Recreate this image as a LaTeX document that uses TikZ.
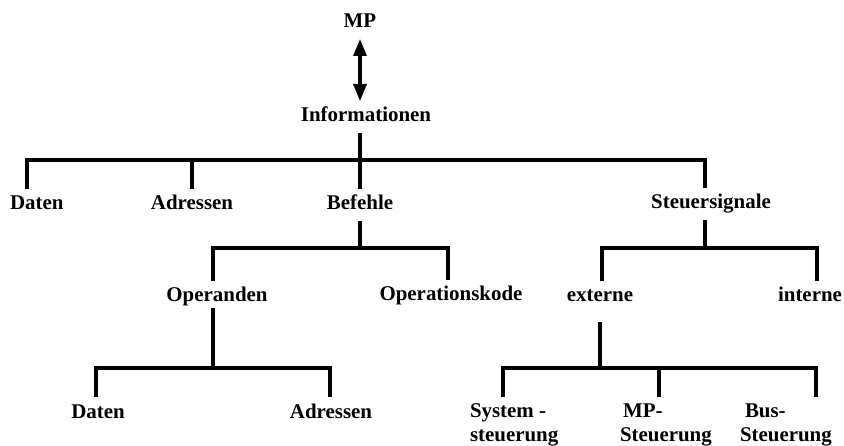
\documentclass[tikz,border=0pt]{standalone}
\usepackage{fontspec}
\setmainfont{Liberation Serif}
\usetikzlibrary{arrows.meta}
\begin{document}
\begin{tikzpicture}[x=1bp,y=-1bp,
  lbl/.style={font=\fontsize{21}{27}\selectfont\bfseries, inner sep=0pt,
    outer xsep=0pt, outer ysep=7bp, text height=14bp, text depth=4bp},
  lbltwo/.style={font=\fontsize{21}{24}\selectfont\bfseries, inner sep=0pt,
    outer sep=0pt, align=left},
  wire/.style={line width=3.2bp, line join=miter},
  biarrow/.style={line width=3.2bp,
    {Triangle[length=17bp,width=13bp]}-{Triangle[length=17bp,width=13bp]}}]
\useasboundingbox (0,0) rectangle (844,446);

% labels
\node[lbl,anchor=base] (mp) at (360,28) {MP};
\node[lbl,anchor=base] (info) at (366,122) {Informationen};
\node[lbl,anchor=base west] (daten) at (10,210) {Daten};
\node[lbl,anchor=base] (adr) at (192,210) {Adressen};
\node[lbl,anchor=base] (bef) at (360,210) {Befehle};
\node[lbl,anchor=base] (steu) at (711,209) {Steuersignale};
\node[lbl,anchor=base] (oper) at (217,302) {Operanden};
\node[lbl,anchor=base] (okode) at (451,301) {Operationskode};
\node[lbl,anchor=base] (ext) at (600,302) {externe};
\node[lbl,anchor=base] (int) at (810,302) {interne};
\node[lbl,anchor=base] (daten2) at (98,418) {Daten};
\node[lbl,anchor=base] (adr2) at (331,418) {Adressen};
% two-line labels: the base anchor sits on the last line
\node[lbltwo,anchor=base west] (sys) at (470,441) {System -\\steuerung};
\node[lbltwo,anchor=base west] (mpst) at (620,441) {\hspace*{3bp}MP-\\Steuerung};
\node[lbltwo,anchor=base west] (bus) at (740,441) {\hspace*{5bp}Bus-\\Steuerung};

% MP <-> Informationen
\draw[biarrow] (mp.south) -- (mp.south |- info.north);

% Informationen -> first level
\coordinate (j0) at (360,160);
\coordinate (j0L) at (27,160);
\coordinate (j0A) at (192,160);
\coordinate (j0R) at (705,160);
\draw[wire] (info.south -| j0) -- (j0) -- (bef.north);
\draw[wire] (j0L |- daten.north) -- (j0L) -- (j0R) -- (j0R |- steu.north);
\draw[wire] (j0A) -- (adr.north);

% Befehle
\coordinate (j1) at (360,248);
\coordinate (j1L) at (213,248);
\coordinate (j1R) at (448,248);
\draw[wire] (bef.south) -- (j1);
\draw[wire] (j1L |- oper.north) -- (j1L) -- (j1R) -- (j1R |- okode.north);

% Steuersignale
\coordinate (j2) at (705,248);
\coordinate (j2L) at (602,248);
\coordinate (j2R) at (817,248);
\draw[wire] (steu.south -| j2) -- (j2);
\draw[wire] (j2L |- ext.north) -- (j2L) -- (j2R) -- (j2R |- int.north);

% Operanden
\coordinate (j3) at (213,368);
\coordinate (j3L) at (96,368);
\coordinate (j3R) at (330,368);
\draw[wire, shorten <=-5bp] (oper.south -| j3) -- (j3);
\draw[wire] (j3L |- daten2.north) -- (j3L) -- (j3R) -- (j3R |- adr2.north);

% externe
\coordinate (j4) at (600,368);
\coordinate (j4L) at (503,368);
\coordinate (j4M) at (659,368);
\coordinate (j4R) at (816,368);
\coordinate (k4) at (600,397);
\draw[wire, shorten <=9bp] (ext.south -| j4) -- (j4);
\draw[wire] (j4L |- k4) -- (j4L) -- (j4R) -- (j4R |- k4);
\draw[wire] (j4M) -- (j4M |- k4);
\end{tikzpicture}
\end{document}
